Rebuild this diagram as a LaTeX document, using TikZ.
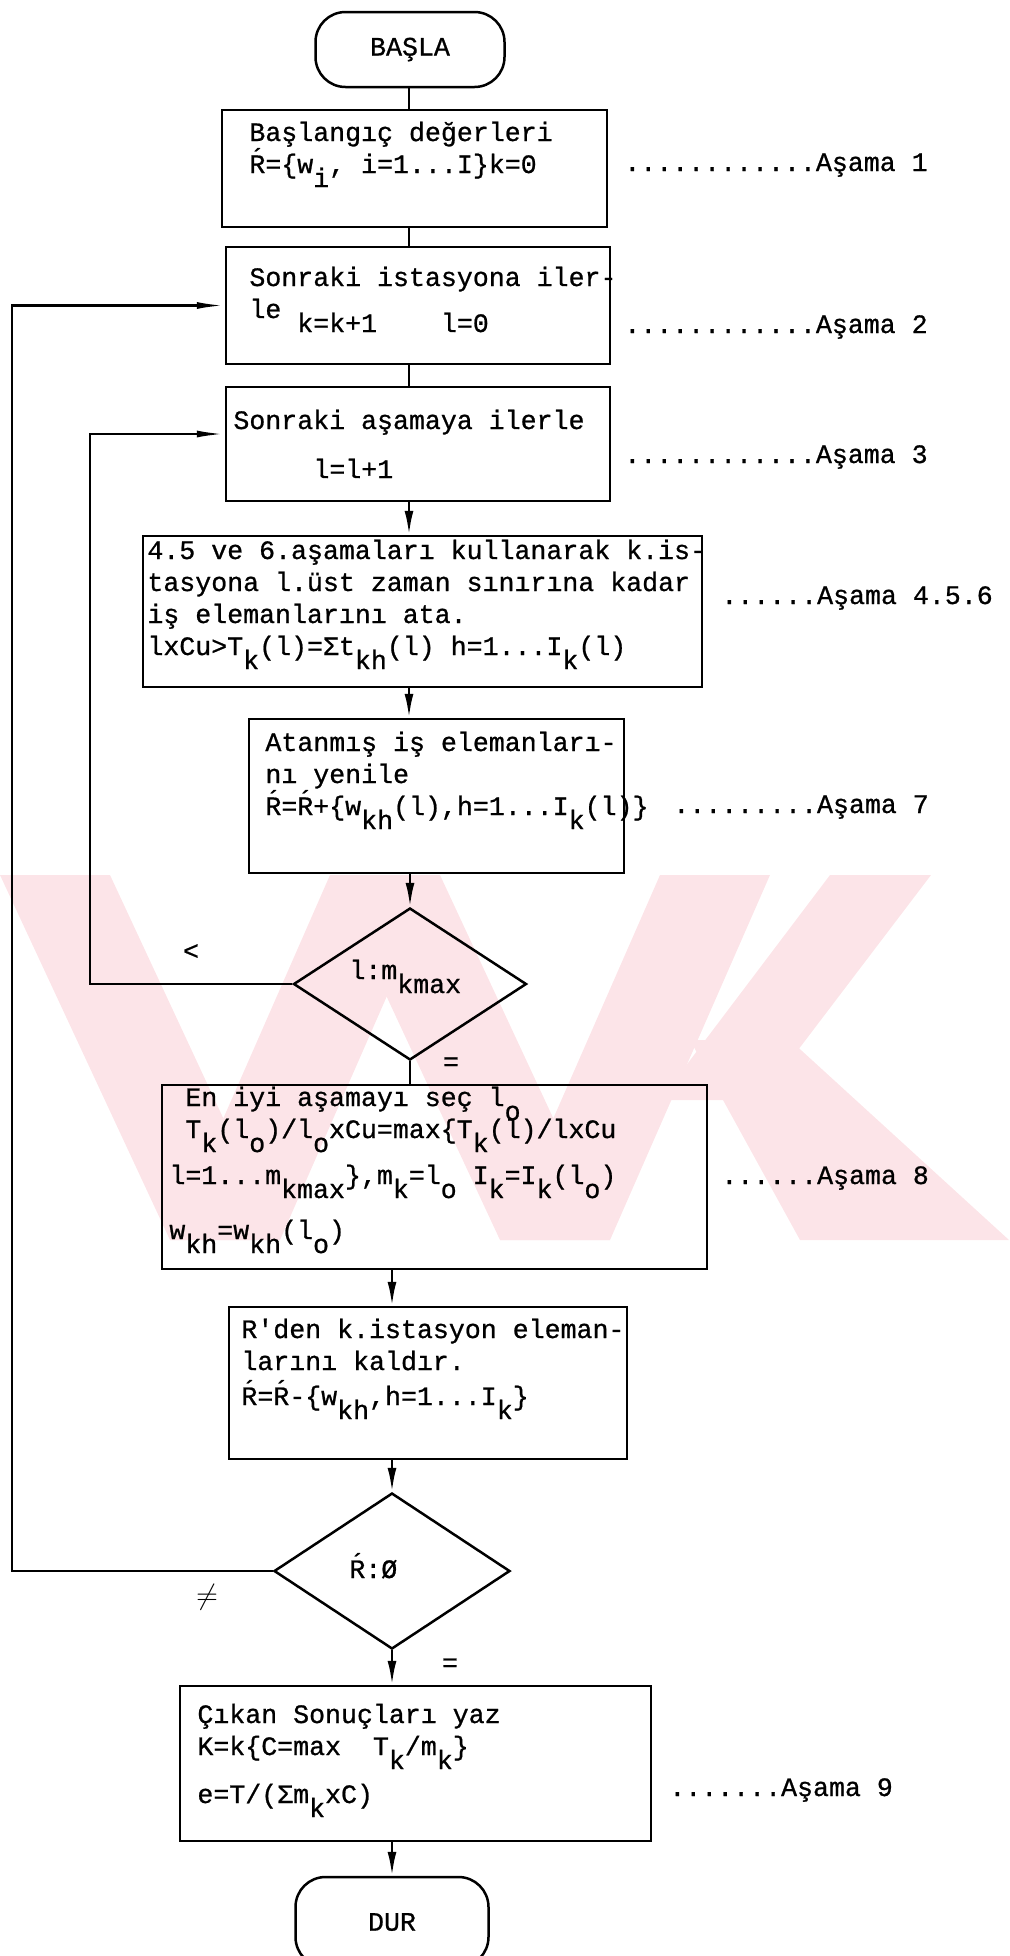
\documentclass[tikz,border=0pt]{standalone}
\usepackage{fontspec}
\setmonofont{Liberation Mono}[FakeBold=0.8]
\usetikzlibrary{arrows.meta, positioning, calc, shapes.geometric}
\definecolor{wmpink}{HTML}{FCE4E8}
\newcommand{\dn}[1]{\smash{\raisebox{-7pt}{#1}}}
\newcommand{\Rpr}{R\llap{\smash{\raisebox{3pt}{´}}}}
\newcommand{\lines}[1]{\begin{tabular}[t]{@{}l@{}}#1\end{tabular}}
\tikzset{
    tw/.style={font=\ttfamily\fontsize{13.3}{16}\selectfont},
    box/.style={rectangle, draw=black, line width=1.25pt, inner sep=0pt},
    termbox/.style={box, rounded corners=15pt, tw},
    decbox/.style={diamond, draw=black, line width=1.25pt, inner sep=0pt},
    txt/.style={tw, inner sep=0pt, anchor=base west},
    plain/.style={line width=1.25pt},
    arrow/.style={-{Latex[length=12pt, width=4.5pt]}, line width=1.25pt},
    looparrow/.style={-{Latex[length=14pt, width=3.5pt]}, line width=1.25pt}
}

\begin{document}
\begin{tikzpicture}[x=0.5pt, y=-0.5pt]
    \useasboundingbox (0,0) rectangle (1009,1956);

    % watermark
    \foreach \ta/\tb/\ba/\bb in {0/110/280/170, 330/440/280/170, 330/440/610/500, 660/770/610/500}
        \fill[wmpink] (\ta,875) -- (\tb,875) -- (\ba,1240) -- (\bb,1240) -- cycle;
    \fill[wmpink] (830,875) -- (931,875) -- (760,1100) -- (660,1100) -- cycle;
    \fill[wmpink] (690,1040) -- (790,1040) -- (1009,1240) -- (800,1240) -- cycle;

    \node[termbox, minimum width=94.5pt, minimum height=37.5pt] (start) at (410,49.5) {BAŞLA};
    \node[box, minimum width=192.5pt, minimum height=58.5pt] (init) at (414.5,168.5) {};
    \node[box, minimum width=192pt, minimum height=58.5pt] (nextstation) at (418,305.5) {};
    \node[box, minimum width=192pt, minimum height=57pt] (nextstage) at (418,444) {};
    \node[box, minimum width=279.5pt, minimum height=75.5pt] (assign) at (422.5,611.5) {};
    \node[box, minimum width=187.5pt, minimum height=77pt] (update) at (436.5,796) {};
    \node[decbox, minimum width=116.5pt, minimum height=76pt] (checkl) at (410,984) {};
    \node[box, minimum width=272.5pt, minimum height=92pt] (best) at (434.5,1177) {};
    \node[box, minimum width=199pt, minimum height=76pt] (remove) at (428,1383) {};
    \node[decbox, minimum width=118pt, minimum height=78pt] (checkr) at (392,1571) {};
    \node[box, minimum width=235.5pt, minimum height=77.5pt] (report) at (415.5,1763.5) {};
    \node[termbox, minimum width=96.5pt, minimum height=45pt] (stop) at (392,1922) {DUR};

    % box texts
    \node[txt] (inittxt) at (249,141) {\lines{Başlangıç değerleri\\\Rpr=\{w\dn{i}, i=1...I\}k=0}};
    \node[txt] (nextstationtxt) at (249,286) {\lines{Sonraki istasyona iler-\\le~\dn{k=k+1~~~~l=0}}};
    \node[txt] (nextstagetxt) at (233,429) {\lines{Sonraki aşamaya ilerle\\[8.5pt]\hspace*{40pt}l=l+1}};
    \node[txt] (assigntxt) at (147,559) {\lines{4.5 ve 6.aşamaları kullanarak k.is-\\tasyona l.üst zaman sınırına kadar\\iş elemanlarını ata.\\lxCu>T\dn{k}(l)=Σt\dn{kh}(l) h=1...I\dn{k}(l)}};
    \node[txt] (updatetxt) at (265,751) {\lines{Atanmış iş elemanları-\\nı yenile\\\Rpr=\Rpr+\{w\dn{kh}(l),h=1...I\dn{k}(l)\}}};
    \node[txt] (checkltxt) at (349,979) {l:m\dn{kmax}};
    \node[txt] (besttxt) at (169,1106) {\lines{\hspace*{8pt}En iyi aşamayı seç l\dn{o}\\\hspace*{8pt}T\dn{k}(l\dn{o})/l\dn{o}xCu=max\{T\dn{k}(l)/lxCu\\[7pt]l=1...m\dn{kmax}\},m\dn{k}=l\dn{o} I\dn{k}=I\dn{k}(l\dn{o})\\[11.5pt]w\dn{kh}=w\dn{kh}(l\dn{o})}};
    \node[txt] (removetxt) at (241,1338) {\lines{R'den k.istasyon eleman-\\larını kaldır.\\[1.5pt]\Rpr=\Rpr-\{w\dn{kh},h=1...I\dn{k}\}}};
    \node[txt] (checkrtxt) at (349,1578) {\Rpr:Ø};
    \node[txt] (reporttxt) at (197,1723) {\lines{Çıkan Sonuçları yaz\\K=k\{C=max~~T\dn{k}/m\dn{k}\}\\[8pt]e=T/(Σm\dn{k}xC)}};

    % stage labels
    \node[txt] (stage1) at (624,171) {............Aşama 1};
    \node[txt] (stage2) at (624,333) {............Aşama 2};
    \node[txt] (stage3) at (624,463) {............Aşama 3};
    \node[txt] (stage456) at (721,604) {......Aşama 4.5.6};
    \node[txt] (stage7) at (673,813) {.........Aşama 7};
    \node[txt] (stage8) at (721,1184) {......Aşama 8};
    \node[txt] (stage9) at (669,1796) {.......Aşama 9};

    % branch labels
    \node[tw] (lesslbl) at (191,952) {<};
    \node[tw] (eqlbla) at (451,1064) {=};
    \node[tw] (neqlbl) at (207,1597) {$\neq$};
    \node[tw] (eqlblb) at (450,1665) {=};

    % connectors
    \coordinate (spine) at (409,0);
    \coordinate (innerx) at (90,0);
    \coordinate (outerx) at (12,0);
    \draw[plain] (start.south -| spine) -- (init.north -| spine);
    \draw[plain] (init.south -| spine) -- (nextstation.north -| spine);
    \draw[plain] (nextstation.south -| spine) -- (nextstage.north -| spine);
    \draw[arrow] (nextstage.south -| spine) -- (assign.north -| spine);
    \draw[arrow] (assign.south -| spine) -- (update.north -| spine);
    \draw[arrow] (update.south -| checkl) -- (checkl.north);
    \draw[plain] (checkl.south) -- (best.north -| checkl);
    \draw[arrow] (best.south -| checkr) -- (remove.north -| checkr);
    \draw[arrow] (remove.south -| checkr) -- (checkr.north);
    \draw[arrow] (checkr.south) -- (report.north -| checkr);
    \draw[arrow] (report.south -| stop) -- (stop.north);
    \draw[looparrow] (checkl.west) -- (checkl.west -| innerx) |- ([yshift=5pt]nextstage.west);
    \draw[looparrow] (checkr.west) -- (checkr.west -| outerx) |- (nextstation.west);
\end{tikzpicture}
\end{document}
